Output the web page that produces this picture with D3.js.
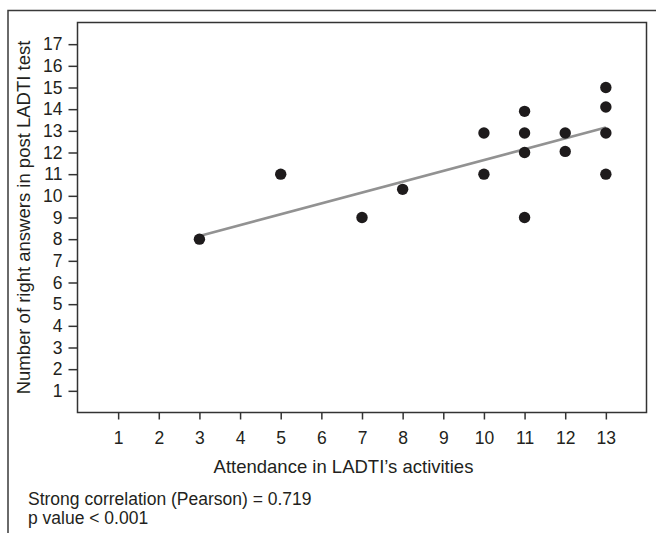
<!DOCTYPE html>
<html>
<head>
<meta charset="utf-8">
<script src="https://cdn.jsdelivr.net/npm/d3@7"></script>
<style>
  body { margin: 0; background: #fff; }
  text { font-family: "Liberation Sans", Arial, sans-serif; fill: #231f20; }
</style>
</head>
<body>
<div id="chart"></div>
<script>
// attendance (x) and right answers (y)
const attendance = [3, 5, 7, 8, 10, 10, 11, 11, 11, 11, 12, 12, 13, 13, 13, 13];
const rightAnswers = [8, 11, 9, 10.3, 12.9, 11, 13.9, 12.9, 12, 9, 12.9, 12.05, 15, 14.1, 12.9, 11];

// fitted line end points as drawn
const fitX = [3, 13];
const fitY = [8.15, 13.15];

const xTicks = d3.range(1, 14);
const yTicks = d3.range(1, 18);

const notes = ["Strong correlation (Pearson) = 0.719", "p value < 0.001"];

const width = 656, height = 533;
const plot = {left: 77.5, right: 646.5, top: 22.5, bottom: 412.5};

const svg = d3.select("#chart").append("svg")
    .attr("width", width)
    .attr("height", height);

// outer frame (only top and left edges are visible)
svg.append("rect")
    .attr("x", 8)
    .attr("y", 10.5)
    .attr("width", width + 20)
    .attr("height", height + 20)
    .attr("fill", "none")
    .attr("stroke", "#3a3a3a")
    .attr("stroke-width", 1.5);

const x = d3.scaleLinear().domain([0, 14]).range([plot.left, plot.right]);
const y = d3.scaleLinear().domain([0, 18]).range([plot.bottom, plot.top]);

const xAxis = svg.append("g")
    .attr("transform", `translate(0, ${plot.bottom})`)
    .call(d3.axisBottom(x).tickValues(xTicks).tickSize(7).tickPadding(12.5).tickFormat(d3.format("d")));

const yAxis = svg.append("g")
    .attr("transform", `translate(${plot.left}, 0)`)
    .call(d3.axisLeft(y).tickValues(yTicks).tickSize(9).tickPadding(6).tickFormat(d3.format("d")));

[xAxis, yAxis].forEach(ax => {
    ax.select(".domain").remove();
    ax.selectAll(".tick line").attr("stroke", "#333").attr("stroke-width", 1.5);
    ax.selectAll(".tick text")
        .attr("font-size", 17.5)
        .attr("fill", "#231f20");
});

// plot box
svg.append("rect")
    .attr("x", plot.left)
    .attr("y", plot.top)
    .attr("width", plot.right - plot.left)
    .attr("height", plot.bottom - plot.top)
    .attr("fill", "none")
    .attr("stroke", "#333")
    .attr("stroke-width", 1.5);

// regression line
svg.append("line")
    .attr("x1", x(fitX[0]))
    .attr("y1", y(fitY[0]))
    .attr("x2", x(fitX[1]))
    .attr("y2", y(fitY[1]))
    .attr("stroke", "#929292")
    .attr("stroke-width", 2.6);

const points = attendance.map((a, i) => ({a: a, r: rightAnswers[i]}));

svg.append("g").selectAll("circle")
    .data(points)
    .join("circle")
    .attr("cx", d => x(d.a))
    .attr("cy", d => y(d.r))
    .attr("r", 5.7)
    .attr("fill", "#1e1b1c");

// axis titles
svg.append("text")
    .attr("x", 343.5)
    .attr("y", 473)
    .attr("text-anchor", "middle")
    .attr("font-size", 18.5)
    .text("Attendance in LADTI\u2019s activities");

svg.append("text")
    .attr("transform", `translate(30, ${(plot.top + plot.bottom) / 2}) rotate(-90)`)
    .attr("text-anchor", "middle")
    .attr("font-size", 18.5)
    .text("Number of right answers in post LADTI test");

svg.append("g").selectAll("text")
    .data(notes)
    .join("text")
    .attr("x", 28)
    .attr("y", (d, i) => 505 + i * 19)
    .attr("font-size", 17.5)
    .text(d => d);
</script>
</body>
</html>
